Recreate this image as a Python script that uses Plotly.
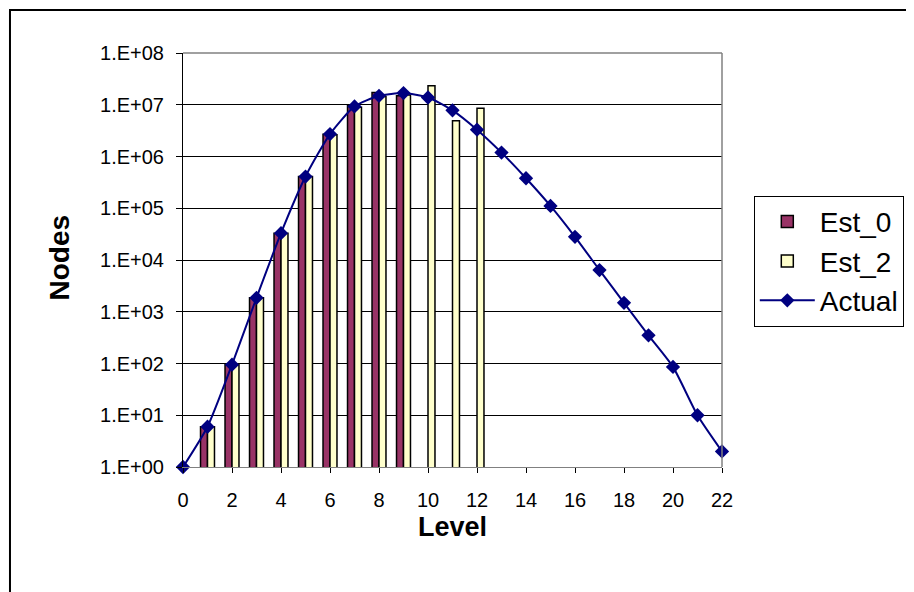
import plotly.graph_objects as go

# Datos (escala logarítmica)
levels = list(range(0, 23))
actual = [1, 6, 95, 1860, 33000, 410000, 2.71e6, 9.3e6, 1.49e7, 1.68e7, 1.38e7,
          7.8e6, 3.3e6, 1.19e6, 3.8e5, 1.11e5, 2.8e4, 6.4e3, 1.49e3, 350, 86, 10, 2]

est0_levels = list(range(1, 10))
est0 = [6, 95, 1860, 33000, 410000, 2.7e6, 9.7e6, 1.73e7, 1.49e7]

est2_levels = list(range(1, 13))
est2 = [6, 95, 1860, 33000, 410000, 2.63e6, 8.9e6, 1.45e7, 1.55e7, 2.33e7, 4.9e6, 8.6e6]

y_tickvals = [1e0, 1e1, 1e2, 1e3, 1e4, 1e5, 1e6, 1e7, 1e8]
y_ticktext = ['1.E+00', '1.E+01', '1.E+02', '1.E+03', '1.E+04',
              '1.E+05', '1.E+06', '1.E+07', '1.E+08']
x_tickvals = list(range(0, 23, 2))

FONT = 'Liberation Sans, Arial, sans-serif'

fig = go.Figure()

fig.add_trace(go.Bar(
    x=est0_levels, y=est0, name='Est_0',
    marker=dict(color='#993366', line=dict(color='black', width=1.5))
))
fig.add_trace(go.Bar(
    x=est2_levels, y=est2, name='Est_2',
    marker=dict(color='#FFFFCC', line=dict(color='black', width=1.5))
))
fig.add_trace(go.Scatter(
    x=levels, y=actual, name='Actual',
    mode='lines+markers',
    line=dict(color='#000080', width=2, shape='spline', smoothing=0.6),
    marker=dict(symbol='diamond', size=11, color='#000080'),
    cliponaxis=False
))

# la página tiene 8 px de margen en el body: se compensa en los márgenes
fig.update_layout(
    width=914, height=592,
    margin=dict(l=175, r=200, t=45, b=133),
    paper_bgcolor='white', plot_bgcolor='white',
    font=dict(family=FONT, color='black', size=20),
    barmode='group', bargap=0.43, bargroupgap=0,
    legend=dict(
        x=1.059, y=0.655, xanchor='left', yanchor='top',
        font=dict(size=28), bordercolor='black', borderwidth=1,
        bgcolor='white', tracegroupgap=0, itemwidth=55
    ),
    xaxis=dict(
        range=[0, 22], tickvals=x_tickvals, showgrid=False, zeroline=False,
        showline=True, linecolor='#808080', linewidth=1,
        ticks='outside', ticklen=5, tickcolor='black',
        ticklabelstandoff=10, tickfont=dict(size=20)
    ),
    yaxis=dict(
        type='log', range=[0, 8], tickvals=y_tickvals, ticktext=y_ticktext,
        showgrid=True, gridcolor='black', gridwidth=1, zeroline=False,
        showline=True, linecolor='black', linewidth=1,
        ticks='outside', ticklen=6, tickcolor='black',
        ticklabelstandoff=8, tickfont=dict(size=20)
    ),
    shapes=[
        # borde exterior del gráfico
        dict(type='rect', xref='paper', yref='paper',
             x0=-0.321, x1=1.40, y0=-0.40, y1=1.104,
             line=dict(color='black', width=2)),
        # bordes gris del área de trazado
        dict(type='line', xref='paper', yref='paper', x0=0, x1=1, y0=1, y1=1,
             line=dict(color='#808080', width=1.5)),
        dict(type='line', xref='paper', yref='paper', x0=1, x1=1, y0=0, y1=1,
             line=dict(color='#808080', width=1.5)),
    ],
    annotations=[
        dict(text='<b>Nodes</b>', xref='paper', yref='paper', x=-0.230, y=0.506,
             xanchor='center', yanchor='middle',
             textangle=-90, showarrow=False, font=dict(size=28)),
        dict(text='<b>Level</b>', xref='paper', yref='paper', x=0.5, y=-0.105,
             xanchor='center', yanchor='top',
             showarrow=False, font=dict(size=27)),
    ],
)

fig.write_html("out.html")
